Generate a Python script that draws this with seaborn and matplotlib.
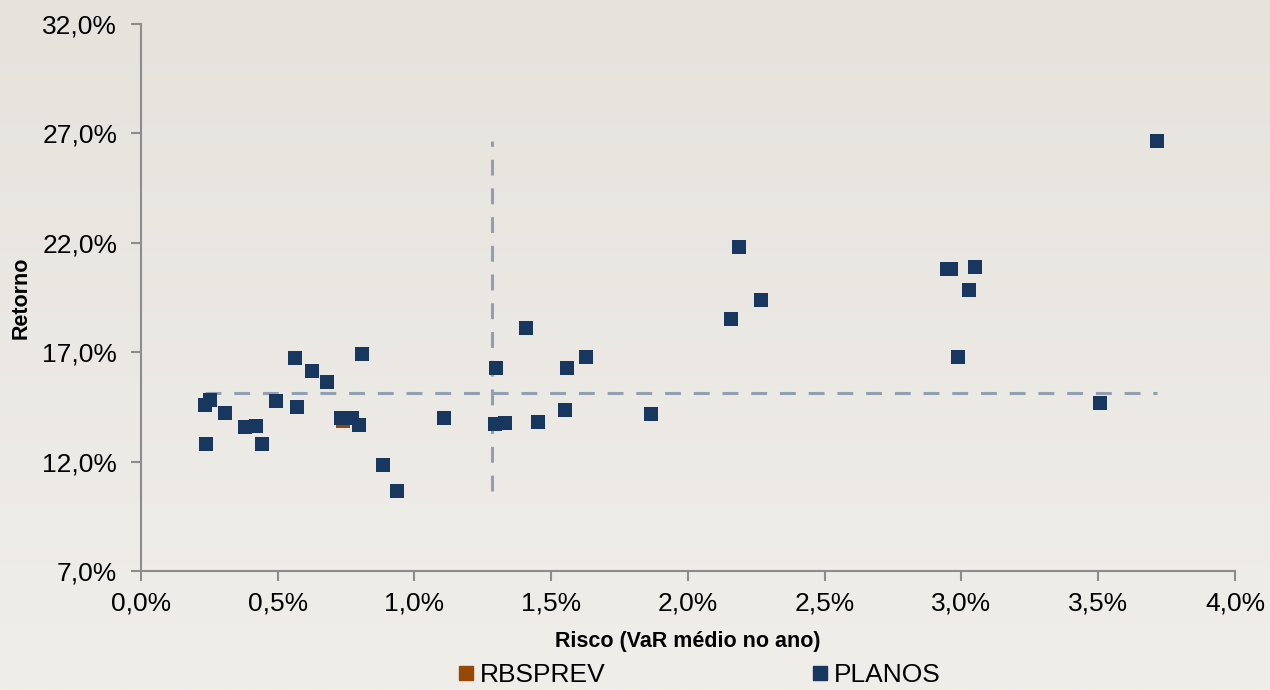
import numpy as np
import pandas as pd
import seaborn as sns
import matplotlib.pyplot as plt
from matplotlib.ticker import FuncFormatter
from matplotlib.lines import Line2D

# Risco (VaR medio no ano, %) e Retorno (%) dos planos
planosRisco = [0.234, 0.252, 0.307, 0.238, 0.380, 0.420, 0.442, 0.494, 0.563, 0.570,
               0.625, 0.680, 0.731, 0.771, 0.797, 0.808, 0.885, 0.936, 1.108, 1.294,
               1.331, 1.298, 1.408, 1.452, 1.550, 1.558, 1.627, 1.865, 2.157, 2.186,
               2.267, 2.947, 2.962, 3.049, 3.027, 2.987, 3.506, 3.715]
planosRetorno = [14.59, 14.82, 14.22, 12.80, 13.58, 13.63, 12.80, 14.77, 16.73, 14.50,
                 16.14, 15.64, 13.99, 13.99, 13.67, 16.92, 11.84, 10.66, 13.99, 13.72,
                 13.76, 16.28, 18.11, 13.81, 14.36, 16.28, 16.78, 14.18, 18.52, 21.81,
                 19.39, 20.80, 20.80, 20.89, 19.84, 16.78, 14.68, 26.65]
rbsRisco = [0.739]
rbsRetorno = [13.86]

# linhas de referencia (tracejadas)
refRisco = 1.283
refRetorno = 15.14

xTicks = [0.0, 0.5, 1.0, 1.5, 2.0, 2.5, 3.0, 3.5, 4.0]
yTicks = [7, 12, 17, 22, 27, 32]

corPlanos = '#17375e'
corRbs = '#974806'
corLinha = '#929fb0'


def pct(v, pos):
    return ('%.1f%%' % v).replace('.', ',')


def main():
    plt.rcParams['font.family'] = ['Liberation Sans', 'DejaVu Sans']
    df = pd.DataFrame({
        'risco': rbsRisco + planosRisco,
        'retorno': rbsRetorno + planosRetorno,
        'serie': ['RBSPREV'] * len(rbsRisco) + ['PLANOS'] * len(planosRisco),
    })

    fig = plt.figure(figsize=(12.7, 6.9), dpi=100)
    # fundo em degrade claro
    bg = fig.add_axes([0, 0, 1, 1], zorder=-10)
    grad = np.linspace(0, 1, 256).reshape(-1, 1)
    bg.imshow(grad, aspect='auto', cmap=plt.matplotlib.colors.LinearSegmentedColormap.from_list(
        'bg', ['#e6e3dd', '#f0eee9']), extent=[0, 1, 0, 1], origin='upper')
    bg.axis('off')

    ax = fig.add_axes([0.111, 0.1725, 0.8614, 0.7927])
    ax.set_facecolor('none')

    ax.hlines(refRetorno, min(planosRisco), max(planosRisco), colors=corLinha,
              linewidth=2.2, linestyles=(0, (5.2, 4.2)), zorder=1)
    ax.vlines(refRisco, min(planosRetorno), max(planosRetorno), colors=corLinha,
              linewidth=2.2, linestyles=(0, (5.2, 4.2)), zorder=1)

    sns.scatterplot(data=df, x='risco', y='retorno', hue='serie',
                    hue_order=['RBSPREV', 'PLANOS'],
                    palette={'RBSPREV': corRbs, 'PLANOS': corPlanos},
                    marker='s', s=100, linewidth=0, legend=False, ax=ax, zorder=3)

    ax.set_xlim(0, 4.0)
    ax.set_ylim(7, 32)
    ax.set_xticks(xTicks)
    ax.set_yticks(yTicks)
    ax.xaxis.set_major_formatter(FuncFormatter(pct))
    ax.yaxis.set_major_formatter(FuncFormatter(pct))
    ax.tick_params(axis='both', labelsize=19, colors='#8c8c8c', labelcolor='black',
                   length=7, width=1.5)
    ax.tick_params(axis='y', pad=10)
    ax.tick_params(axis='x', pad=8)
    for side in ['top', 'right']:
        ax.spines[side].set_visible(False)
    for side in ['left', 'bottom']:
        ax.spines[side].set_color('#8c8c8c')
        ax.spines[side].set_linewidth(1.5)

    ax.set_xlabel('Risco (VaR médio no ano)', fontsize=15.5, fontweight='bold', labelpad=11)
    ax.set_ylabel('Retorno', fontsize=15.5, fontweight='bold', labelpad=8)

    handles = [Line2D([], [], marker='s', linestyle='none', color=corRbs, markersize=10),
               Line2D([], [], marker='s', linestyle='none', color=corPlanos, markersize=10)]
    fig.legend(handles, ['RBSPREV', 'PLANOS'], loc='center', ncol=2,
               bbox_to_anchor=(0.5496, 0.022), frameon=False, fontsize=19,
               handletextpad=0.15, columnspacing=7.7, handlelength=0.8,
               borderpad=0.1)

    fig.savefig('out.png', dpi=100)


main()
